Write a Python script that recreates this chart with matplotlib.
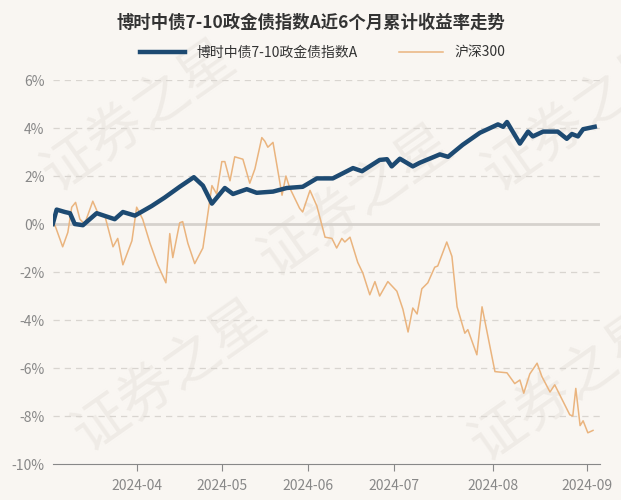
import matplotlib
matplotlib.use("Agg")
import matplotlib.pyplot as plt

plt.rcParams['font.family'] = ['Noto Sans CJK SC', 'DejaVu Sans']

fund_day = [0,0.9,2.8,4,5.1,7,10.2,14.4,16.3,19.1,23,26,29.5,32.8,34.9,37,40,41.9,45.1,47.4,51.2,54.4,58.1,61.4,65.1,69.8,71.9,76,77.7,78.8,80.7,83.7,85.3,90,91.9,95.3,99.3,103.5,104.7,105.6,108.6,110.5,111.6,114,117.4,119.5,120.7,122.1,123.3,126]
fund_val = [0.0,0.6,0.5,0.45,0.0,-0.05,0.45,0.2,0.5,0.35,0.75,1.1,1.55,1.95,1.6,0.85,1.5,1.25,1.45,1.3,1.35,1.5,1.55,1.9,1.9,2.33,2.2,2.67,2.7,2.4,2.72,2.4,2.55,2.9,2.8,3.3,3.8,4.15,4.05,4.25,3.35,3.85,3.65,3.85,3.85,3.55,3.75,3.65,3.95,4.05]

hs_day = [0,0.5,2.3,3.5,4.4,5.3,6.3,7.4,9.3,10.5,12.1,14,15.1,16.3,18.4,19.5,20.9,22.6,24.4,26.3,27.2,27.9,29.5,30.2,31.4,33,34.9,37,38.1,39.3,40,41.2,42.3,44.2,45.8,47,48.6,49.3,50,51.2,53.3,54.2,55.1,57.4,58.1,59.8,61.4,63.3,64.9,66,67.2,67.9,69.1,70.9,72.1,73.7,74.9,76,77.9,80,81.4,82.6,83.7,84.7,85.8,87.2,88.8,89.5,91.6,92.8,94,95.8,96.5,98.6,99.8,102.8,105.6,107.4,108.6,109.5,110.9,112.6,113.7,115.6,116.7,120.2,120.9,121.6,122.6,123.3,124.4,125.6]
hs_val = [0.0,-0.05,-0.95,-0.35,0.7,0.9,0.2,0.0,0.95,0.45,0.35,-0.95,-0.6,-1.7,-0.7,0.7,0.2,-0.8,-1.7,-2.45,-0.4,-1.4,0.05,0.1,-0.8,-1.65,-1.0,1.6,1.25,2.6,2.6,1.8,2.8,2.7,1.7,2.3,3.6,3.45,3.2,3.4,1.2,2.0,1.5,0.65,0.5,1.4,0.75,-0.55,-0.6,-1.0,-0.6,-0.75,-0.55,-1.6,-2.05,-2.95,-2.4,-3.0,-2.4,-2.8,-3.55,-4.5,-3.5,-3.75,-2.7,-2.45,-1.8,-1.75,-0.75,-1.35,-3.45,-4.55,-4.4,-5.45,-3.45,-6.15,-6.2,-6.65,-6.5,-7.05,-6.25,-5.8,-6.35,-7.0,-6.7,-7.95,-8.0,-6.85,-8.4,-8.2,-8.7,-8.6]

tick_pos = [19.5, 39.3, 59.3, 79.3, 102.3, 124.2]
tick_lab = ['2024-04', '2024-05', '2024-06', '2024-07', '2024-08', '2024-09']
y_ticks = [-10, -8, -6, -4, -2, 0, 2, 4, 6]

bg = '#f9f6f2'
fig = plt.figure(figsize=(6.21, 5.0), dpi=100, facecolor=bg)
ax = fig.add_axes([0.085, 0.072, 0.881, 0.768], facecolor='none')

for (x, y) in [(0.05, 0.62), (0.4, 0.45), (0.1, 0.1), (0.74, 0.08), (0.76, 0.62)]:
    fig.text(x, y, '证券之星', fontsize=40, color='#efebe6', rotation=35, zorder=-5)

for v in y_ticks:
    if v == 0:
        ax.axhline(0, color='#d6d2cd', lw=2, zorder=1)
    elif v != -10:
        ax.axhline(v, color='#d9d5d0', lw=0.9, ls=(0, (5, 4)), zorder=1)

ax.plot(hs_day, hs_val, color='#eab47e', lw=1.1, label='沪深300', zorder=3)
ax.plot(fund_day, fund_val, color='#1d4a72', lw=3.2, label='博时中债7-10政金债指数A', zorder=4)

ax.set_xlim(0, 127.2)
ax.set_ylim(-10, 6)
ax.set_yticks(y_ticks)
ax.set_yticklabels([f'{v}%' for v in y_ticks], color='#888888', fontsize=10)
ax.set_xticks(tick_pos)
ax.set_xticklabels(tick_lab, color='#888888', fontsize=10)
ax.tick_params(axis='y', length=0, pad=6)
ax.tick_params(axis='x', length=5, color='#888888', pad=6)
for s in ['top', 'right', 'left']:
    ax.spines[s].set_visible(False)
ax.spines['bottom'].set_color('#888888')

handles, labels = ax.get_legend_handles_labels()
fig.legend(handles[::-1], labels[::-1], loc='center', bbox_to_anchor=(0.52, 0.895), ncol=2,
           frameon=False, fontsize=10, handlelength=3.2, columnspacing=3, labelcolor='#333333')
fig.text(0.5, 0.955, '博时中债7-10政金债指数A近6个月累计收益率走势', ha='center', va='center',
         fontsize=12.5, fontweight='bold', color='#333333')

fig.savefig('out.png', dpi=100, facecolor=bg)
